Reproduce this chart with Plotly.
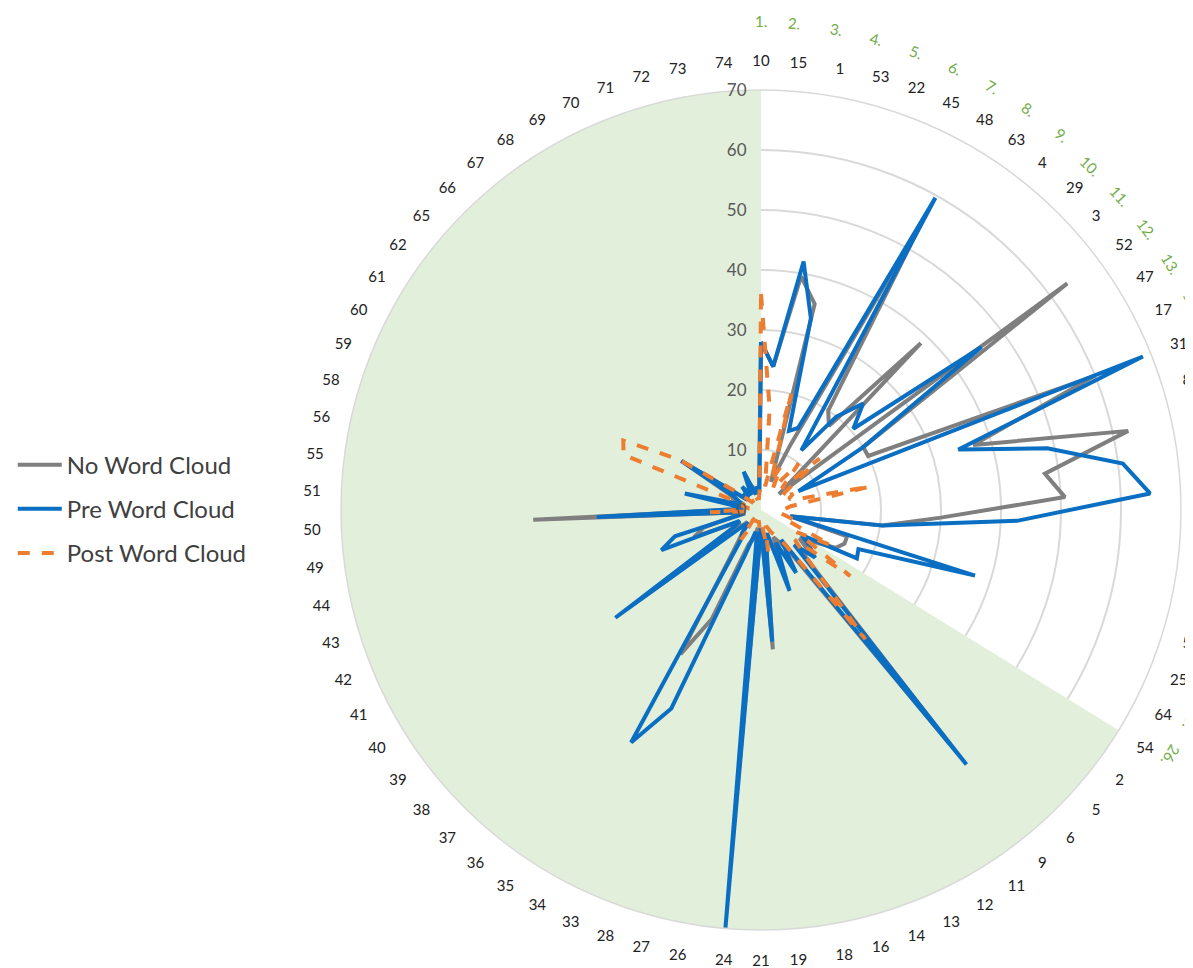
import math
import plotly.graph_objects as go

categories = ["10","15","1","53","22","45","48","63","4","29","3","52","47","17","31","8",
              "7","20","23","30","32","46",
              "57","25","64","54","2","5","6","9","11","12","13","14","16","18","19","21","24",
              "26","27","28","33","34","35","36","37","38","39","40","41","42","43","44","49",
              "50","51","55","56","58","59","60","61","62","65","66","67","68","69","70","71",
              "72","73","74"]

no_word_cloud = [28,24,39.5,35.5,5,12,55,20,18,38.5,4,63.5,20,20,60,37,62.6,47.7,50.7,30,20.4,5,
                 15,15,14,10,8,11,10,50,8,6,5,10,5,4,23.3,3,45,3,5,6,20,27.5,8,5,4,3,25,4,5,12,
                 10,4,3,38,3,3,5,4,5,6,15.6,3,3,4,3,4,3,5,4,3,3,4]
pre_word_cloud = [28,24,42,33,14,15,59.6,12,20,24.6,20.5,45.7,20,7,68.6,34.4,48.8,60.8,64.9,42.7,20.5,5,
                  37.3,17.5,17.9,8,10,12,8,54.5,6,12,6,14.3,4,5,22,3,70,4,4,8,36.3,44.4,6,5,3,4,30.2,5,4,17.9,
                  15,3,3,27.4,4,3,13,3,4,5,15.6,3,4,3,5,3,4,7,3,3,4,3]
post_word_cloud = [36,17,4,20,5,8,4,6,10,5,13,5,4,6,5,6,18.6,5,4,4,3,4,
                   6,5,13,7,18.5,7.5,11,27.7,6,5,4,3,3,7,3,2,3,2,2,2,2,2,6,2,2,2,2,2,2,2,
                   2,2,2,8.5,3,2,3,3,24.7,25.7,16,5,2,2,2,2,2,3,2,2,2,3]

shade_start = "54"
shade_end = "10"
group_labels = [f"{k}." for k in range(1, 27)]

N = len(categories)
step = 360.0 / N
theta = [i * step for i in range(N)]

def closed(v):
    return list(v) + [v[0]]

th_closed = theta + [theta[0] + 360]

fig = go.Figure()

# green shaded sector from category "54" round to category "10"
a0 = theta[categories.index(shade_start)]
a1 = 360.0 + theta[categories.index(shade_end)]
fig.add_trace(go.Barpolar(r=[70], theta=[(a0 + a1) / 2], width=[a1 - a0], base=0,
                          marker=dict(color="#e2efda", line=dict(width=0)),
                          showlegend=False, hoverinfo="skip"))

fig.add_trace(go.Scatterpolar(r=closed(no_word_cloud), theta=th_closed, mode="lines",
                              name="No Word Cloud", legendgroup="a",
                              line=dict(color="#7f7f7f", width=4)))
fig.add_trace(go.Scatterpolar(r=closed(pre_word_cloud), theta=th_closed, mode="lines",
                              name="Pre Word Cloud", legendgroup="b",
                              line=dict(color="#0a6ec2", width=4)))
fig.add_trace(go.Scatterpolar(r=closed(post_word_cloud), theta=th_closed, mode="lines",
                              name="Post Word Cloud", legendgroup="c",
                              line=dict(color="#ed7d31", width=4, dash="dash")))

W, H = 1193, 968
cx, cy, R = 753, 502, 420
dom_x = [(cx - R) / W, (cx + R) / W]
dom_y = [(H - cy - R) / H, (H - cy + R) / H]

annotations = []
for k, lab in enumerate(group_labels):
    ang = theta[k]
    rr = 500
    px = cx + rr * math.sin(math.radians(ang))
    py = cy - rr * math.cos(math.radians(ang))
    annotations.append(dict(x=px / W, y=(H - py) / H, xref="paper", yref="paper",
                            text=lab, showarrow=False, textangle=ang,
                            font=dict(color="#70ad47", size=15, family="Lato")))

fig.update_layout(
    width=W, height=H,
    margin=dict(l=0, r=0, t=0, b=0),
    paper_bgcolor="white",
    font=dict(family="Lato", color="#222222"),
    polar=dict(
        domain=dict(x=dom_x, y=dom_y),
        bgcolor="rgba(0,0,0,0)",
        radialaxis=dict(range=[0, 70], dtick=10, angle=90, tickangle=90,
                        side="counterclockwise", showline=False,
                        ticks="outside", ticklen=8, tickcolor="rgba(0,0,0,0)",
                        gridcolor="#d9d9d9", gridwidth=1.5,
                        tickfont=dict(size=17, color="#595959")),
        angularaxis=dict(rotation=90, direction="clockwise", type="linear",
                         tickmode="array", tickvals=theta, ticktext=categories,
                         showgrid=False, showline=True, linecolor="#d9d9d9", linewidth=1.5,
                         ticks="outside", ticklen=17, tickcolor="rgba(0,0,0,0)",
                         tickfont=dict(size=15, color="#222222")),
    ),
    legend=dict(x=0.004, y=0.4824, xanchor="left", yanchor="middle",
                font=dict(size=24, color="#404040"), tracegroupgap=10,
                itemwidth=44, bgcolor="rgba(0,0,0,0)"),
    annotations=annotations,
)

fig.write_html("out.html")
